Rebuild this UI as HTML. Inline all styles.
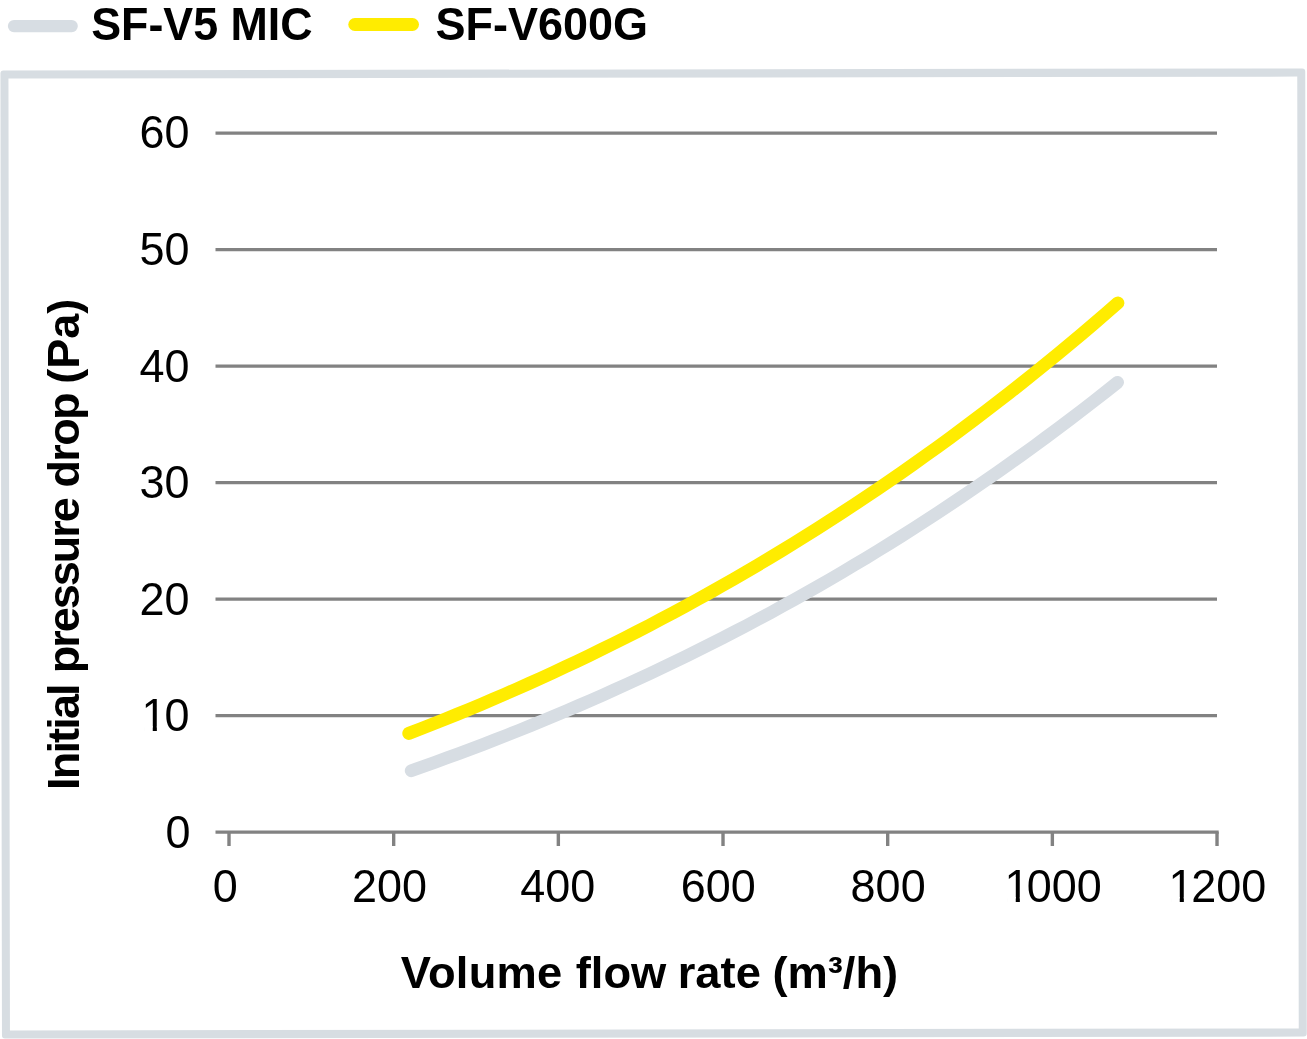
<!DOCTYPE html>
<html><head><meta charset="utf-8"><title>Initial pressure drop chart</title><style>
html,body{margin:0;padding:0;background:#fff;width:1307px;height:1039px;overflow:hidden}
svg{display:block;will-change:transform}
text{font-family:"Liberation Sans",Arial,sans-serif;fill:#000}
.b{font-weight:bold}
</style></head><body>
<svg width="1307" height="1039" viewBox="0 0 1307 1039">
<rect x="0" y="0" width="1307" height="1039" fill="#fff"/>
<!-- legend -->
<line x1="14" y1="26.1" x2="71.7" y2="26.1" stroke="#d7dde3" stroke-width="12.3" stroke-linecap="round"/>
<text class="b" transform="translate(91.2 40) scale(1 1.04)" font-size="44.8">SF-V5 MIC</text>
<line x1="354.8" y1="24.5" x2="412.5" y2="24.5" stroke="#ffec00" stroke-width="13" stroke-linecap="round"/>
<text class="b" transform="translate(435.5 40) scale(1 1.04)" font-size="45">SF-V600G</text>
<!-- frame -->
<path d="M3.44,70.42 L1302.24,68.38 A3,3 0 0 1 1305.24,71.38 L1306.75,1033.57 A3,3 0 0 1 1303.76,1036.58 L4.96,1038.62 A3,3 0 0 1 1.96,1035.62 L0.45,73.43 A3,3 0 0 1 3.44,70.42 Z M8.45,78.61 L1297.25,76.59 L1298.75,1028.39 L9.95,1030.41 Z" fill="#d7dde2" fill-rule="evenodd"/>
<!-- grid -->
<g stroke="#828282" stroke-width="3.4" fill="none">
<line x1="215.5" y1="715.60" x2="1217" y2="715.60"/>
<line x1="215.5" y1="599.10" x2="1217" y2="599.10"/>
<line x1="215.5" y1="482.60" x2="1217" y2="482.60"/>
<line x1="215.5" y1="366.10" x2="1217" y2="366.10"/>
<line x1="215.5" y1="249.60" x2="1217" y2="249.60"/>
<line x1="215.5" y1="133.10" x2="1217" y2="133.10"/>
<line x1="215.5" y1="832.10" x2="1218.7" y2="832.10"/>
</g>
<g stroke="#828282" stroke-width="3.4">
<line x1="229.00" y1="832.10" x2="229.00" y2="846"/>
<line x1="393.67" y1="832.10" x2="393.67" y2="846"/>
<line x1="558.34" y1="832.10" x2="558.34" y2="846"/>
<line x1="723.01" y1="832.10" x2="723.01" y2="846"/>
<line x1="887.68" y1="832.10" x2="887.68" y2="846"/>
<line x1="1052.35" y1="832.10" x2="1052.35" y2="846"/>
<line x1="1217.02" y1="832.10" x2="1217.02" y2="846"/>
</g>
<!-- series -->
<path d="M411.20,770.71 L423.17,766.48 L435.15,762.19 L447.12,757.84 L459.09,753.43 L471.06,748.94 L483.04,744.40 L495.01,739.78 L506.98,735.10 L518.96,730.35 L530.93,725.52 L542.90,720.63 L554.87,715.66 L566.85,710.62 L578.82,705.51 L590.79,700.32 L602.77,695.05 L614.74,689.71 L626.71,684.29 L638.68,678.79 L650.66,673.21 L662.63,667.55 L674.60,661.80 L686.58,655.98 L698.55,650.06 L710.52,644.07 L722.49,637.98 L734.47,631.81 L746.44,625.56 L758.41,619.21 L770.39,612.77 L782.36,606.24 L794.33,599.62 L806.31,592.91 L818.28,586.10 L830.25,579.19 L842.22,572.19 L854.20,565.10 L866.17,557.90 L878.14,550.61 L890.12,543.21 L902.09,535.72 L914.06,528.12 L926.03,520.42 L938.01,512.61 L949.98,504.70 L961.95,496.69 L973.93,488.57 L985.90,480.33 L997.87,471.99 L1009.84,463.54 L1021.82,454.98 L1033.79,446.31 L1045.76,437.52 L1057.74,428.62 L1069.71,419.61 L1081.68,410.47 L1093.65,401.22 L1105.63,391.86 L1117.60,382.37" fill="none" stroke="#d7dde3" stroke-width="12.8" stroke-linecap="round" stroke-linejoin="round"/>
<path d="M408.80,733.38 L420.82,728.74 L432.84,724.02 L444.86,719.23 L456.87,714.36 L468.89,709.41 L480.91,704.39 L492.93,699.29 L504.95,694.10 L516.97,688.84 L528.99,683.50 L541.01,678.08 L553.02,672.57 L565.04,666.98 L577.06,661.30 L589.08,655.54 L601.10,649.69 L613.12,643.75 L625.14,637.72 L637.15,631.61 L649.17,625.40 L661.19,619.10 L673.21,612.71 L685.23,606.23 L697.25,599.65 L709.27,592.98 L721.28,586.21 L733.30,579.35 L745.32,572.39 L757.34,565.32 L769.36,558.16 L781.38,550.90 L793.40,543.54 L805.42,536.07 L817.43,528.50 L829.45,520.83 L841.47,513.05 L853.49,505.16 L865.51,497.17 L877.53,489.07 L889.55,480.86 L901.56,472.54 L913.58,464.11 L925.60,455.56 L937.62,446.91 L949.64,438.14 L961.66,429.26 L973.68,420.26 L985.69,411.15 L997.71,401.91 L1009.73,392.56 L1021.75,383.09 L1033.77,373.50 L1045.79,363.79 L1057.81,353.96 L1069.83,344.01 L1081.84,333.93 L1093.86,323.72 L1105.88,313.39 L1117.90,302.94" fill="none" stroke="#ffec00" stroke-width="13" stroke-linecap="round" stroke-linejoin="round"/>
<!-- labels -->
<defs><clipPath id="nofoot"><path d="M0,0 H1307 V1039 H0 Z M144.10,726.20 H152.75 V732.70 H144.10 Z M156.86,726.20 H165.10 V732.70 H156.86 Z M1007.10,897.00 H1015.75 V903.50 H1007.10 Z M1019.86,897.00 H1028.10 V903.50 H1019.86 Z M1171.10,897.00 H1179.75 V903.50 H1171.10 Z M1183.86,897.00 H1192.10 V903.50 H1183.86 Z" clip-rule="evenodd"/></clipPath></defs>
<g font-size="45" clip-path="url(#nofoot)">
<text transform="translate(165.48 847.70) scale(1 1.025)" x="0.00">0</text>
<text transform="translate(141.50 731.20) scale(1 1.025)" x="0.00 22.98">10</text>
<text transform="translate(139.46 614.70) scale(1 1.025)" x="0.00 25.02">20</text>
<text transform="translate(139.46 498.20) scale(1 1.025)" x="0.00 25.02">30</text>
<text transform="translate(139.46 381.70) scale(1 1.025)" x="0.00 25.02">40</text>
<text transform="translate(139.46 265.20) scale(1 1.025)" x="0.00 25.02">50</text>
<text transform="translate(139.46 147.90) scale(1 1.025)" x="0.00 25.02">60</text>
<text transform="translate(212.80 902.00) scale(1 1.025)" x="0.00">0</text>
<text transform="translate(351.90 902.00) scale(1 1.025)" x="0.00 25.02 50.04">200</text>
<text transform="translate(520.30 902.00) scale(1 1.025)" x="0.00 25.02 50.04">400</text>
<text transform="translate(680.80 902.00) scale(1 1.025)" x="0.00 25.02 50.04">600</text>
<text transform="translate(850.60 902.00) scale(1 1.025)" x="0.00 25.02 50.04">800</text>
<text transform="translate(1004.50 902.00) scale(1 1.025)" x="0.00 22.22 47.24 72.26">1000</text>
<text transform="translate(1168.50 902.00) scale(1 1.025)" x="0.00 22.82 47.84 72.86">1200</text>
</g>
<text class="b" transform="translate(400.8 988) scale(1 0.985)" font-size="45.3"><tspan x="0" style="letter-spacing:0.25px">Volume</tspan> <tspan x="174.99">flow</tspan> <tspan x="276.94">rate</tspan> <tspan x="371.6">(m³/h)</tspan></text>
<text class="b" font-size="45" transform="translate(79.4 789.5) rotate(-90) scale(1 0.985)"><tspan x="-0.41" style="letter-spacing:-1.83px">Initial</tspan> <tspan x="116.23" style="letter-spacing:-1.99px">pressure</tspan> <tspan x="302.05" style="letter-spacing:-1.7px">drop</tspan> <tspan x="405.66">(Pa)</tspan></text>
</svg>
</body></html>
